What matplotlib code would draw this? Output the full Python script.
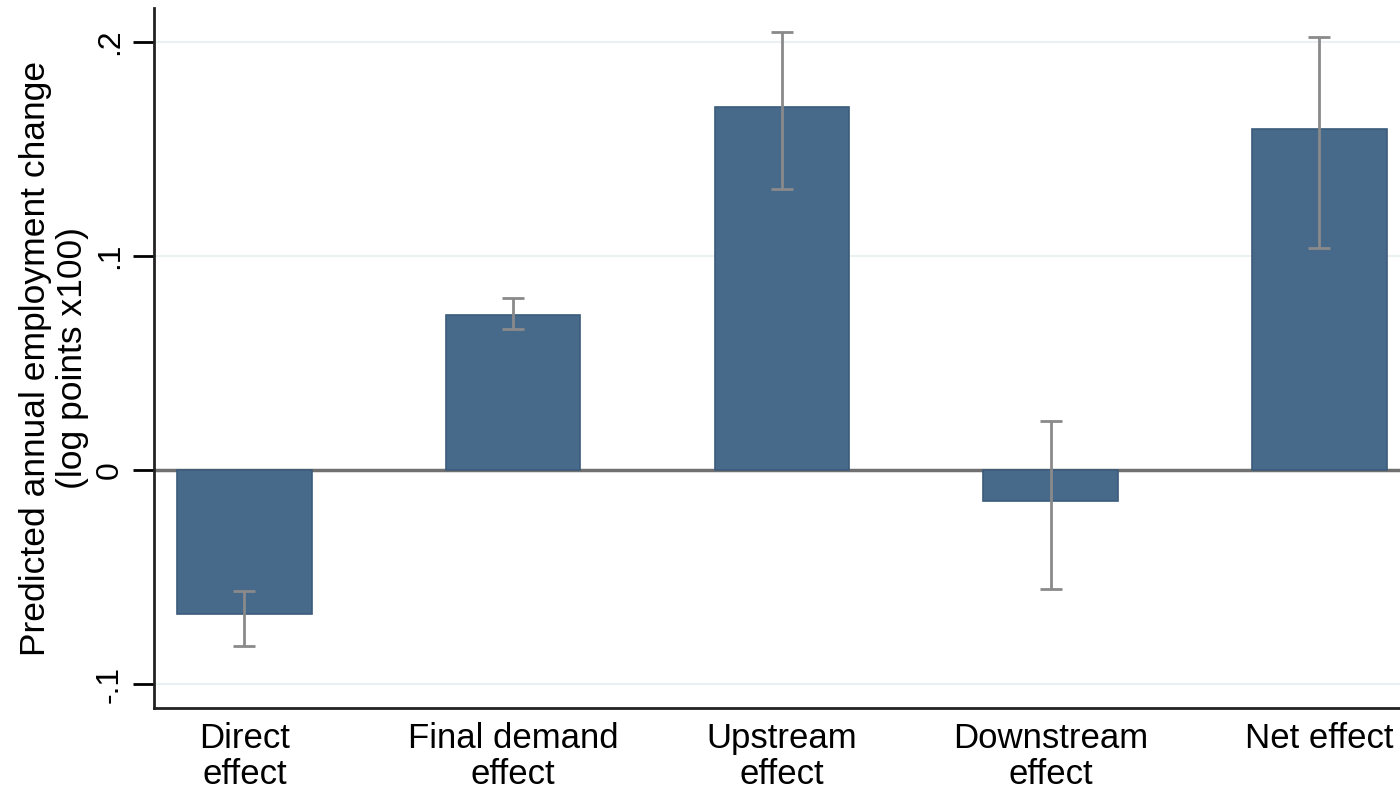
import matplotlib.pyplot as plt

categories = ["Direct\neffect", "Final demand\neffect", "Upstream\neffect",
              "Downstream\neffect", "Net effect"]
estimate = [-0.0673, 0.0724, 0.1696, -0.0145, 0.1593]
ci_low = [-0.0822, 0.0659, 0.1313, -0.0556, 0.1037]
ci_high = [-0.0565, 0.0804, 0.2047, 0.0229, 0.2023]
ytick_vals = [-0.1, 0, 0.1, 0.2]
ytick_labels = ["-.1", "0", ".1", ".2"]

plt.rcParams['font.family'] = ['Liberation Sans', 'DejaVu Sans']

fig = plt.figure(figsize=(14, 7.92), dpi=100)
ax = fig.add_axes([0.11, 0.106, 0.897, 0.884])

x = list(range(len(categories)))
err_lo = [e - l for e, l in zip(estimate, ci_low)]
err_hi = [h - e for e, h in zip(estimate, ci_high)]

# light grid + zero line drawn under the bars
for v in ytick_vals:
    if v != 0:
        ax.axhline(v, color="#eaf1f3", lw=1.5, zorder=0)
ax.axhline(0, color="#707070", lw=2.5, zorder=1)

ax.bar(x, estimate, width=0.5, color="#476a8a", edgecolor="#3b5b7b",
       linewidth=1.2, zorder=2)
ax.errorbar(x, estimate, yerr=[err_lo, err_hi], fmt="none",
            ecolor="#8a8a8a", elinewidth=2, capsize=8, capthick=2, zorder=3)

ax.set_xlim(-0.336, 4.336)
ax.set_ylim(-0.1112, 0.2159)
ax.set_xticks(x)
ax.set_xticklabels(categories, fontsize=25, linespacing=1.12)
ax.tick_params(axis="x", length=0, pad=10)
ax.set_yticks(ytick_vals)
ax.set_yticklabels(ytick_labels, fontsize=23, rotation=90, va="center")
ax.tick_params(axis="y", length=15, width=2, pad=6)

ax.set_ylabel("Predicted annual employment change\n(log points x100)",
              fontsize=25.5, linespacing=1.15, labelpad=4)

for s in ["top", "right"]:
    ax.spines[s].set_visible(False)
for s in ["left", "bottom"]:
    ax.spines[s].set_linewidth(2)
    ax.spines[s].set_color("#222222")

fig.savefig("out.png", dpi=100)
